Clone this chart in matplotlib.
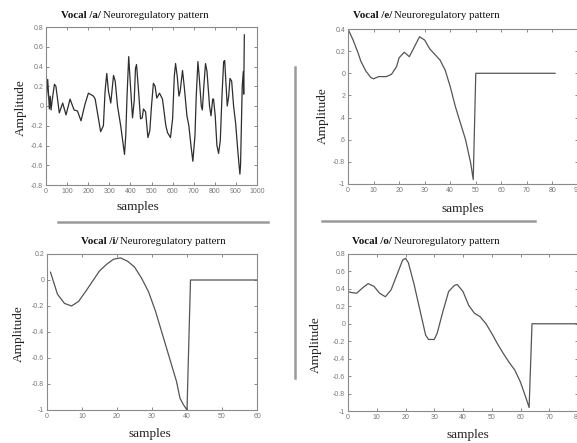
import matplotlib
matplotlib.use("Agg")
import matplotlib.pyplot as plt
from matplotlib.lines import Line2D

W, H = 577, 443

# ---------------- data ----------------
a_x = [0, 8, 16, 20, 24, 30, 40, 47, 63, 79, 95, 114, 133, 149, 166, 185, 201, 225, 233,
       259, 272, 280, 288, 296, 307, 320, 328, 339, 354, 372, 378, 384, 392, 399, 410, 418,
       424, 429, 437, 448, 456, 462, 472, 483, 492, 500, 509, 517, 525, 538, 552, 568, 576,
       590, 600, 608, 614, 622, 630, 636, 647, 655, 668, 677, 687, 696, 706, 712, 720, 726,
       736, 741, 748, 756, 763, 775, 782, 790, 794, 802, 810, 818, 826, 834, 842, 847, 851,
       859, 866, 872, 880, 889, 899, 907, 915, 919, 922, 927, 930, 935, 937, 940]
a_y = [0.02, 0.27, -0.03, 0.10, -0.04, 0.07, 0.22, 0.20, -0.07, 0.03, -0.09, 0.07, -0.04,
       -0.05, -0.15, 0.02, 0.13, 0.10, 0.07, -0.26, -0.20, 0.15, 0.33, 0.15, 0.03, 0.31,
       0.25, 0.00, -0.20, -0.49, -0.30, 0.10, 0.50, 0.25, -0.12, 0.05, 0.38, 0.42, 0.20,
       -0.13, -0.12, -0.03, -0.06, -0.32, -0.25, 0.00, 0.23, 0.20, 0.08, 0.13, 0.07, -0.20,
       -0.27, -0.32, -0.13, 0.30, 0.43, 0.30, 0.10, 0.15, 0.36, 0.20, -0.10, -0.20, -0.40,
       -0.56, -0.30, 0.10, 0.45, 0.30, 0.00, -0.04, 0.20, 0.43, 0.35, 0.00, -0.10, 0.07,
       0.07, -0.10, -0.40, -0.48, -0.35, 0.10, 0.45, 0.46, 0.30, 0.00, 0.10, 0.28, 0.25,
       0.00, -0.18, -0.40, -0.60, -0.69, -0.60, -0.10, 0.20, 0.35, 0.12, 0.72]

e_x = [0, 2, 4, 5, 7, 9, 10, 12, 15, 17, 19, 20, 22, 24, 26, 28, 30, 32, 34, 36, 38, 40,
       42, 44, 46, 48, 49, 50, 81]
e_y = [0.40, 0.30, 0.18, 0.11, 0.02, -0.04, -0.05, -0.03, -0.03, -0.01, 0.06, 0.14, 0.19,
       0.15, 0.24, 0.33, 0.30, 0.22, 0.17, 0.12, 0.03, -0.12, -0.30, -0.45, -0.60, -0.81,
       -0.96, 0.0, 0.0]

i_x = [1, 3, 5, 7, 9, 11, 13, 15, 17, 19, 21, 23, 25, 27, 29, 31, 33, 35, 37, 38, 39, 40,
       41, 60]
i_y = [0.06, -0.11, -0.18, -0.20, -0.165, -0.09, -0.01, 0.07, 0.12, 0.16, 0.17, 0.145,
       0.10, 0.015, -0.09, -0.24, -0.42, -0.60, -0.78, -0.91, -0.96, -1.0, 0.0, 0.0]

o_x = [0, 1, 3, 5, 7, 9, 11, 13, 15, 17, 19, 20, 21, 23, 25, 27, 28, 30, 31, 33, 35, 37,
       38, 40, 42, 44, 46, 48, 50, 52, 54, 56, 58, 60, 62, 63, 64, 80]
o_y = [0.37, 0.36, 0.35, 0.41, 0.46, 0.43, 0.35, 0.31, 0.39, 0.56, 0.73, 0.75, 0.70, 0.45,
       0.16, -0.13, -0.18, -0.18, -0.11, 0.14, 0.37, 0.44, 0.45, 0.37, 0.21, 0.12, 0.08,
       0.00, -0.11, -0.23, -0.34, -0.44, -0.53, -0.67, -0.86, -0.96, 0.0, 0.0]

a_yticks = [0.8, 0.6, 0.4, 0.2, 0, -0.2, -0.4, -0.6, -0.8]
a_yticklabels = ["0.8", "0.6", "0.4", "0.2", "0", "-0.2", "-0.4", "-0.6", "-0.8"]
a_xticks = [0, 100, 200, 300, 400, 500, 600, 700, 800, 900, 1000]

e_yticks = [0.4, 0.2, 0, -0.2, -0.4, -0.6, -0.8, -1]
e_yticklabels = ["0.4", "0.2", "0", "2", ".4", ".6", "-0.8", "-1"]
e_xticks = [0, 10, 20, 30, 40, 50, 60, 70, 80, 90]

i_yticks = [0.2, 0, -0.2, -0.4, -0.6, -0.8, -1]
i_yticklabels = ["0.2", "0", "-0.2", "-0.4", "-0.6", "-0.8", "-1"]
i_xticks = [0, 10, 20, 30, 40, 50, 60]

o_yticks = [0.8, 0.6, 0.4, 0.2, 0, -0.2, -0.4, -0.6, -0.8, -1]
o_yticklabels = ["0.8", "0.6", "0.4", "0.2", "0", "-0.2", "-0.4", "-0.6", "-0.8", "-1"]
o_xticks = [0, 10, 20, 30, 40, 50, 60, 70, 80]

vowels = ["/a/", "/e/", "/i/", "/o/"]

# ---------------- figure ----------------
fig = plt.figure(figsize=(W / 100, H / 100), dpi=100)
fig.patch.set_facecolor("white")

SERIF = ["Liberation Serif", "DejaVu Serif"]
SANS = ["Liberation Sans", "DejaVu Sans"]


def rect(l, r, t, b):
    return [l / W, 1 - b / H, (r - l) / W, (b - t) / H]


def fx(x):
    return x / W


def fy(y):
    return 1 - y / H


def style_axes(ax, xlim, ylim, xticks, yticks, yticklabels):
    ax.set_xlim(*xlim)
    ax.set_ylim(*ylim)
    ax.set_xticks(xticks)
    ax.set_xticklabels([str(t) for t in xticks])
    ax.set_yticks(yticks)
    ax.set_yticklabels(yticklabels)
    ax.tick_params(direction="in", length=2.5, width=0.6, color="#777777",
                   labelsize=5, labelcolor="#777777", top=True, right=True, pad=2)
    for lab in ax.get_xticklabels() + ax.get_yticklabels():
        lab.set_family(SANS)
    for s in ax.spines.values():
        s.set_color("#8a8a8a")
        s.set_linewidth(0.8)


panels = [
    dict(r=rect(46, 257, 27, 185), x=a_x, y=a_y, xlim=(0, 1000), ylim=(-0.8, 0.8),
         xt=a_xticks, yt=a_yticks, ytl=a_yticklabels, color="#2e2e2e", lw=0.9,
         title_x=101, title_y=15, ylab=(21, 108), xlab=(138, 207)),
    dict(r=rect(348, 578, 29, 184), x=e_x, y=e_y, xlim=(0, 90), ylim=(-1, 0.4),
         xt=e_xticks, yt=e_yticks, ytl=e_yticklabels, color="#555555", lw=0.9,
         title_x=392, title_y=16, ylab=(323, 116), xlab=(463, 209)),
    dict(r=rect(47, 257, 254, 410), x=i_x, y=i_y, xlim=(0, 60), ylim=(-1, 0.2),
         xt=i_xticks, yt=i_yticks, ytl=i_yticklabels, color="#555555", lw=0.9,
         title_x=118, title_y=241, ylab=(19, 334), xlab=(150, 434)),
    dict(r=rect(348, 578, 254, 411), x=o_x, y=o_y, xlim=(0, 80), ylim=(-1, 0.8),
         xt=o_xticks, yt=o_yticks, ytl=o_yticklabels, color="#555555", lw=0.9,
         title_x=392, title_y=242, ylab=(316, 345), xlab=(468, 435)),
]

for p, v in zip(panels, vowels):
    ax = fig.add_axes(p["r"])
    ax.plot(p["x"], p["y"], color=p["color"], lw=p["lw"])
    style_axes(ax, p["xlim"], p["ylim"], p["xt"], p["yt"], p["ytl"])
    fig.text(fx(p["title_x"]), fy(p["title_y"]), "Vocal " + v, ha="right", va="center",
             family=SERIF, fontweight="bold", fontsize=7.8, color="#111111")
    fig.text(fx(p["title_x"] + 2), fy(p["title_y"]), "Neuroregulatory pattern", ha="left",
             va="center", family=SERIF, fontsize=7.8, color="#111111")
    fig.text(fx(p["ylab"][0]), fy(p["ylab"][1]), "Amplitude", rotation=90, ha="center",
             va="center", family=SERIF, fontsize=9.5, color="#222222")
    fig.text(fx(p["xlab"][0]), fy(p["xlab"][1]), "samples", ha="center", va="center",
             family=SERIF, fontsize=9.5, color="#222222")

# separators
sep = dict(color="#9a9a9a", lw=1.8, transform=fig.transFigure)
fig.add_artist(Line2D([fx(295), fx(295)], [fy(67), fy(378)], **sep))
fig.add_artist(Line2D([fx(58), fx(268)], [fy(222), fy(222)], **sep))
fig.add_artist(Line2D([fx(322), fx(535)], [fy(221), fy(221)], **sep))

fig.savefig("out.png", dpi=100, facecolor="white")
